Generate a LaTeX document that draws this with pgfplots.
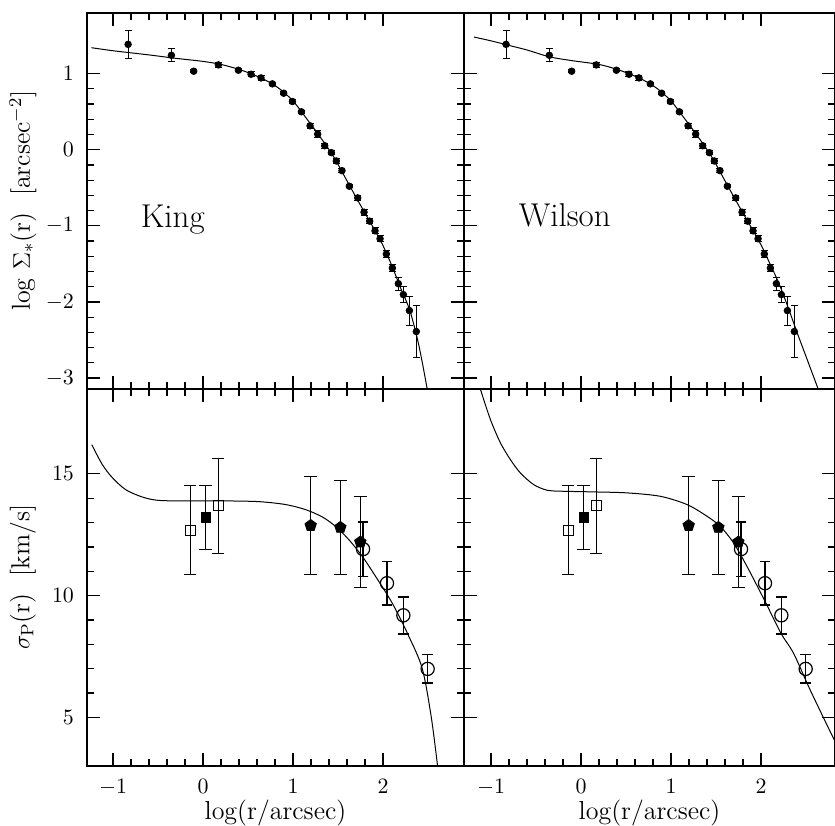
\documentclass[border=0pt]{standalone}
\usepackage{pgfplots}
\pgfplotsset{compat=1.18}

% surface density points (same in both upper panels)
\pgfplotstableread{
x y e
-0.833 1.384 0.186
-0.352 1.240 0.087
-0.104 1.031 0.02
0.170 1.114 0.03
0.393 1.044 0.02
0.533 0.991 0.03
0.644 0.943 0.03
0.770 0.865 0.02
0.896 0.742 0.02
0.993 0.633 0.02
1.093 0.498 0.02
1.189 0.314 0.03
1.274 0.205 0.05
1.352 0.052 0.03
1.426 -0.039 0.03
1.481 -0.148 0.03
1.544 -0.275 0.03
1.626 -0.480 0.02
1.719 -0.633 0.03
1.789 -0.821 0.04
1.852 -0.939 0.03
1.911 -1.066 0.04
1.967 -1.170 0.04
2.037 -1.371 0.05
2.104 -1.555 0.05
2.170 -1.760 0.087
2.226 -1.904 0.11
2.293 -2.114 0.19
2.370 -2.389 0.34
}\sbdata

\pgfplotstableread{
x y
-1.24 1.34
-1.0 1.30
-0.6 1.245
-0.3 1.20
0.0 1.16
0.2 1.12
0.4 1.055
0.55 0.99
0.7 0.91
0.85 0.80
1.0 0.64
1.15 0.41
1.3 0.17
1.45 -0.09
1.6 -0.41
1.75 -0.73
1.9 -1.04
2.0 -1.26
2.1 -1.53
2.2 -1.83
2.3 -2.12
2.4 -2.58
2.5 -3.2
}\kingsb

\pgfplotstableread{
x y
-1.19 1.48
-1.0 1.43
-0.8 1.37
-0.6 1.31
-0.35 1.22
-0.1 1.17
0.2 1.12
0.4 1.055
0.55 0.99
0.7 0.91
0.85 0.80
1.0 0.64
1.15 0.41
1.3 0.17
1.45 -0.09
1.6 -0.41
1.75 -0.73
1.9 -1.04
2.0 -1.25
2.1 -1.50
2.2 -1.76
2.3 -2.07
2.4 -2.40
2.52 -2.78
2.64 -3.16
2.7 -3.35
}\wilsonsb

% velocity dispersion points
\pgfplotstableread{
x y e
-0.144 12.69 1.83
0.170 13.70 1.95
}\opensq
\pgfplotstableread{
x y e
0.030 13.21 1.32
}\fillsq
\pgfplotstableread{
x y e
1.196 12.88 2.00
1.526 12.80 1.94
1.748 12.20 1.86
}\pentdata
\pgfplotstableread{
x y e
1.778 11.91 1.12
2.044 10.51 0.89
2.226 9.19 0.76
2.496 6.99 0.59
}\circdata

\pgfplotstableread{
x y
-1.237 16.20
-1.119 15.38
-1.007 14.84
-0.859 14.35
-0.674 14.05
-0.489 13.91
-0.119 13.89
0.252 13.89
0.622 13.86
0.919 13.74
1.141 13.53
1.326 13.23
1.474 12.84
1.622 12.29
1.770 11.61
1.919 10.78
2.104 9.68
2.289 8.31
2.437 6.99
2.537 4.99
2.607 2.98
}\kingsig

\pgfplotstableread{
x y
-1.14 18.90
-1.119 18.50
-1.007 17.24
-0.896 16.28
-0.785 15.59
-0.674 15.04
-0.526 14.56
-0.378 14.33
-0.230 14.29
0.141 14.26
0.511 14.22
0.881 14.08
1.178 13.74
1.400 13.26
1.548 12.84
1.696 12.16
1.844 11.20
2.037 9.82
2.222 8.45
2.363 7.62
2.548 6.11
2.826 3.98
2.90 3.50
}\wilsonsig

\pgfplotsset{
  panel/.style={
    scale only axis, anchor=south west,
    axis line style={line width=0.9pt},
    tick style={line width=0.6pt, black},
    major tick length=6.5pt, minor tick length=3.5pt,
    tick align=inside,
    xtick={-1,0,1,2}, minor x tick num=4,
    tick label style={font=\fontsize{11}{13}\selectfont},
    xticklabel style={yshift=-3.3pt},
    yticklabel style={xshift=-3pt},
    every axis y label/.style={at={(axis description cs:-0.17,0.5)}, rotate=90,
      anchor=center, font=\fontsize{13}{15}\selectfont},
    every axis x label/.style={at={(axis description cs:0.5,-0.143)}, anchor=base,
      font=\fontsize{13}{15}\selectfont},
  },
  sbtop/.style={
    ymin=-3.14, ymax=1.8, ytick={-3,-2,-1,0,1}, minor y tick num=4,
    xticklabels={}, height=188pt,
  },
  sigbot/.style={
    ymin=3, ymax=18.5, ytick={5,10,15}, minor y tick num=4,
    height=188.65pt, xlabel={log(r/arcsec)},
  },
  model/.style={black, line width=0.5pt, smooth, no marks},
  pts/.style={black, only marks,
    error bars/y dir=both, error bars/y explicit,
    error bars/error bar style={line width=0.5pt}},
}

\begin{document}
\begin{tikzpicture}
\useasboundingbox (-43.5pt,-29.5pt) rectangle (374pt,383pt);

% upper left: King
\begin{axis}[panel, sbtop, at={(0pt,188.65pt)}, width=188.5pt,
  xmin=-1.29, xmax=2.9,
  ylabel={log $\Sigma_*$(r)\ \ [arcsec$^{-2}$]}]
\addplot[model] table {\kingsb};
\addplot[pts, mark=*, mark size=1.65pt,
  error bars/error mark options={rotate=90, mark size=1.75pt, line width=0.5pt}]
  table[x=x, y=y, y error=e] {\sbdata};
\node[font=\fontsize{16.5}{19}\selectfont, anchor=base] at (axis cs:-0.337,-1.02) {King};
\end{axis}

% upper right: Wilson
\begin{axis}[panel, sbtop, at={(188.5pt,188.65pt)}, width=185.5pt,
  xmin=-1.3, xmax=2.822, yticklabels={}]
\addplot[model] table {\wilsonsb};
\addplot[pts, mark=*, mark size=1.65pt,
  error bars/error mark options={rotate=90, mark size=1.75pt, line width=0.5pt}]
  table[x=x, y=y, y error=e] {\sbdata};
\node[font=\fontsize{16.5}{19}\selectfont, anchor=base] at (axis cs:-0.18,-1.01) {Wilson};
\end{axis}

% lower left
\begin{axis}[panel, sigbot, at={(0pt,0pt)}, width=188.5pt,
  xmin=-1.29, xmax=2.9,
  ylabel={$\sigma_{\rm P}$(r)\ \ [km/s]}]
\addplot[model] table {\kingsig};
\addplot[pts, mark=square, mark size=2.5pt,
  error bars/error mark options={rotate=90, mark size=3pt, line width=0.5pt}]
  table[x=x, y=y, y error=e] {\opensq};
\addplot[pts, mark=square*, mark size=2.3pt,
  error bars/error mark options={rotate=90, mark size=3.2pt, line width=0.5pt}]
  table[x=x, y=y, y error=e] {\fillsq};
\addplot[pts, mark=pentagon*, mark size=3pt,
  error bars/error mark options={rotate=90, mark size=3.3pt, line width=0.5pt}]
  table[x=x, y=y, y error=e] {\pentdata};
\addplot[pts, mark=o, mark size=3.3pt, mark options={line width=0.6pt},
  error bars/error bar style={line width=0.8pt},
  error bars/error mark options={rotate=90, mark size=2.7pt, line width=0.8pt}]
  table[x=x, y=y, y error=e] {\circdata};
\end{axis}

% lower right
\begin{axis}[panel, sigbot, at={(188.5pt,0pt)}, width=185.5pt,
  xmin=-1.3, xmax=2.822, yticklabels={}]
\addplot[model] table {\wilsonsig};
\addplot[pts, mark=square, mark size=2.5pt,
  error bars/error mark options={rotate=90, mark size=3pt, line width=0.5pt}]
  table[x=x, y=y, y error=e] {\opensq};
\addplot[pts, mark=square*, mark size=2.3pt,
  error bars/error mark options={rotate=90, mark size=3.2pt, line width=0.5pt}]
  table[x=x, y=y, y error=e] {\fillsq};
\addplot[pts, mark=pentagon*, mark size=3pt,
  error bars/error mark options={rotate=90, mark size=3.3pt, line width=0.5pt}]
  table[x=x, y=y, y error=e] {\pentdata};
\addplot[pts, mark=o, mark size=3.3pt, mark options={line width=0.6pt},
  error bars/error bar style={line width=0.8pt},
  error bars/error mark options={rotate=90, mark size=2.7pt, line width=0.8pt}]
  table[x=x, y=y, y error=e] {\circdata};
\end{axis}
\end{tikzpicture}
\end{document}
